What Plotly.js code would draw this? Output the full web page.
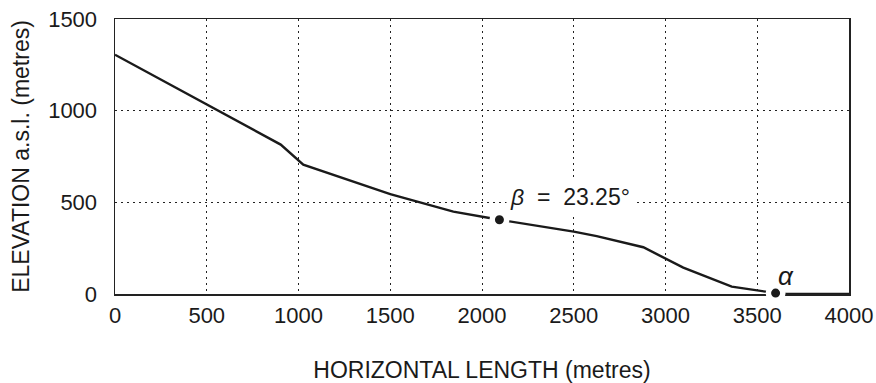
<!DOCTYPE html>
<html>
<head>
<meta charset="utf-8">
<script src="https://cdn.plot.ly/plotly-3.0.1.min.js"></script>
<style>html,body{margin:0;padding:0;background:#fff;}#chart{width:876px;height:383px;}</style>
</head>
<body>
<div id="chart"></div>
<script>
// Profile: horizontal length (m) vs elevation a.s.l. (m)
const profileX = [0, 903, 1026, 1500, 1844, 2095, 2500, 2625, 2879, 3097, 3361, 3533, 3600, 3660, 4000];
const profileY = [1305, 815, 705, 545, 449, 405, 340, 316, 255, 144, 40, 13, 5, 0, 0];
// Marked points
const pointX = [2095, 3600];
const pointY = [405, 5];
const pointLabels = ['<i>β</i>  =  23.25°', '<i>α</i>'];
const pointLabelX = [2133, 3590];
const pointLabelY = [529, 98];
const xTicks = [0, 500, 1000, 1500, 2000, 2500, 3000, 3500, 4000];
const yTicks = [0, 500, 1000, 1500];

const ink = '#1a1a1a';
const traces = [
  {x: profileX, y: profileY, mode: 'lines', line: {color: ink, width: 2.4}, hoverinfo: 'skip', showlegend: false},
  {x: pointX, y: pointY, mode: 'markers', cliponaxis: false,
   marker: {color: ink, size: 14.5, line: {color: '#fff', width: 5.5}}, hoverinfo: 'skip', showlegend: false}
];

const axisCommon = {
  showline: true, linecolor: '#222', linewidth: 1.5, mirror: true,
  showgrid: true, gridcolor: '#222', gridwidth: 1, griddash: '2px,4px',
  zeroline: false, ticks: '', layer: 'below traces',
  tickfont: {family: 'Liberation Sans, Arial, sans-serif', size: 22, color: ink},
  fixedrange: true
};

const layout = {
  width: 876, height: 383,
  margin: {l: 115, r: 27, t: 19, b: 89},
  paper_bgcolor: '#fff', plot_bgcolor: '#fff',
  font: {family: 'Liberation Sans, Arial, sans-serif', color: ink},
  xaxis: Object.assign({}, axisCommon, {
    range: [0, 4000], tickvals: xTicks, ticktext: xTicks.map(String),
    ticklabelstandoff: 1,
    title: {text: 'HORIZONTAL LENGTH (metres)', font: {size: 23, color: ink}, standoff: 36}
  }),
  yaxis: Object.assign({}, axisCommon, {
    range: [0, 1500], tickvals: yTicks, ticktext: yTicks.map(String),
    ticklabelstandoff: 12,
    title: {text: 'ELEVATION a.s.l. (metres)', font: {size: 23, color: ink}, standoff: 12}
  }),
  annotations: pointLabels.map((t, i) => ({
    x: pointLabelX[i], y: pointLabelY[i], xref: 'x', yref: 'y',
    text: t, showarrow: false, xanchor: 'left', yanchor: 'middle',
    bgcolor: i === 0 ? '#fff' : 'rgba(0,0,0,0)', borderpad: 3,
    font: {family: 'Liberation Sans, Arial, sans-serif', size: i === 0 ? 23 : 26, color: ink}
  }))
};

Plotly.newPlot('chart', traces, layout, {staticPlot: true, displayModeBar: false});
</script>
</body>
</html>
